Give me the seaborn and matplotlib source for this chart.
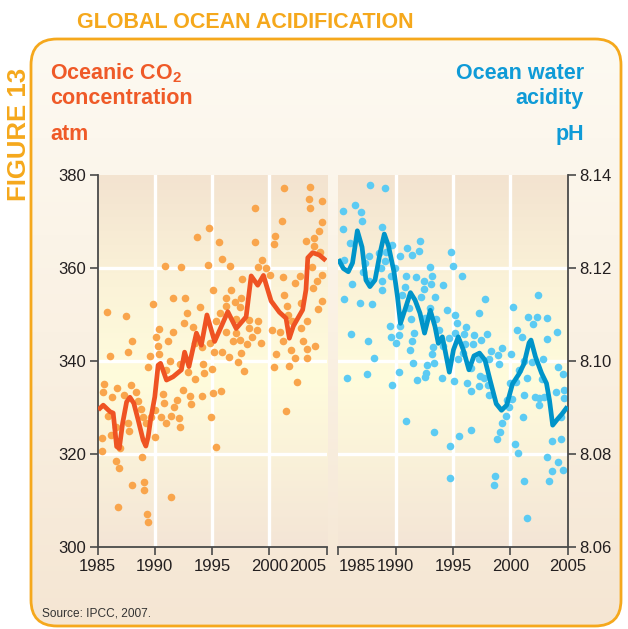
import numpy as np
import pandas as pd
import matplotlib
matplotlib.use("Agg")
import matplotlib.pyplot as plt
import seaborn as sns
from matplotlib.patches import FancyBboxPatch
from matplotlib.colors import LinearSegmentedColormap

# ---------------- data ----------------
co2_year = [1985.80, 1986.09, 1987.48, 1987.65, 1987.97, 1989.80, 1990.93, 1991.57, 1990.37, 1990.09,
            1990.29, 1991.16, 1991.57, 1989.57, 1990.37, 1989.42, 1990.98, 1991.33, 1985.57, 1985.50,
            1986.72, 1986.23, 1987.91, 1988.37, 1987.33, 1988.55, 1988.76, 1985.94, 1987.63, 1987.74,
            1986.15, 1988.98, 1989.24, 1989.63, 1990.00, 1990.72, 1990.81, 1990.55, 1991.02, 1991.42,
            1991.65, 1990.00, 1986.58, 1985.42, 1985.42, 1986.96, 1986.58, 1986.87, 1988.84, 1987.97,
            1989.02, 1989.07, 1986.81, 1989.28, 1989.37, 1991.45, 1994.70, 1993.68, 1995.59, 1995.89,
            1996.55, 1994.63, 1992.32, 1997.59, 1995.07, 1996.67, 1992.61, 1996.23, 1996.98, 1997.54,
            1993.97, 1996.23, 1997.45, 1992.81, 1995.65, 1992.58, 1995.37, 1997.10, 1993.33, 1996.17,
            1997.10, 1996.81, 1997.45, 1998.03, 1993.48, 1994.11, 1994.78, 1995.16, 1995.85, 1996.46,
            1997.54, 1997.22, 1997.74, 1995.02, 1994.29, 1994.20, 1992.90, 1993.48, 1992.17, 1992.46,
            1991.94, 1993.10, 1993.16, 1994.15, 1995.10, 1995.74, 1994.93, 1992.09, 1992.17, 1995.37,
            2001.30, 2003.57, 2003.42, 2003.54, 2004.63, 1998.76, 2001.07, 2004.63, 2004.29, 2000.52,
            2000.37, 2003.19, 2003.89, 2003.85, 1998.76, 2004.43, 1999.37, 1998.98, 1999.71, 2000.09,
            2001.19, 2002.63, 2002.26, 2003.68, 2004.61, 2004.15, 2003.77, 2001.30, 2001.54, 2004.58,
            2004.26, 2002.76, 2001.63, 1999.04, 1998.23, 1998.93, 1998.26, 1998.46, 1999.28, 2000.20,
            2000.93, 2001.16, 2001.97, 2002.76, 2003.24, 2002.90, 2003.28, 2003.97, 2003.28, 2001.89,
            2002.20, 2000.58, 2000.37, 2001.68, 2002.37, 2001.42]
co2_val = [350.5, 341.1, 349.7, 342.0, 344.4, 352.3, 360.4, 353.6, 346.8, 345.2,
           343.3, 344.4, 346.3, 341.1, 341.5, 338.8, 338.1, 339.9, 335.0, 333.4,
           334.3, 332.2, 334.8, 333.3, 332.6, 331.5, 329.7, 328.2, 326.6, 324.9,
           324.1, 328.0, 326.6, 327.9, 329.5, 332.9, 331.0, 328.0, 326.7, 328.2,
           330.0, 323.6, 325.7, 323.4, 320.6, 321.2, 318.5, 316.9, 319.4, 313.3,
           314.0, 312.3, 308.5, 307.2, 305.4, 310.8, 368.5, 366.6, 365.6, 362.0,
           360.5, 360.6, 360.2, 357.6, 355.2, 355.3, 353.5, 353.6, 352.6, 353.6,
           351.7, 351.8, 351.7, 350.4, 350.3, 348.2, 348.5, 349.0, 347.4, 346.2,
           346.0, 344.2, 344.5, 343.7, 343.8, 343.1, 343.8, 342.0, 342.0, 340.9,
           341.7, 339.8, 337.8, 338.3, 337.4, 339.3, 337.6, 336.1, 339.4, 333.8,
           331.6, 332.5, 330.8, 332.5, 333.2, 333.5, 328.0, 327.7, 325.9, 321.6,
           377.1, 377.4, 374.9, 373.0, 374.5, 372.8, 370.2, 369.9, 368.0, 366.9,
           365.1, 365.8, 366.5, 364.7, 365.6, 363.5, 361.7, 360.2, 360.1, 358.6,
           358.1, 358.2, 356.7, 360.3, 358.6, 357.2, 355.6, 354.3, 351.8, 352.9,
           351.1, 352.4, 349.9, 348.5, 348.8, 346.7, 347.0, 345.2, 343.9, 346.6,
           346.2, 344.4, 348.5, 347.2, 348.6, 344.2, 342.6, 343.2, 340.7, 342.4,
           340.7, 341.5, 338.8, 339.0, 335.5, 329.2]

co2_line_year = [1985.07, 1985.50, 1986.09, 1986.37, 1986.67, 1986.90, 1987.19, 1987.54, 1987.83, 1988.17,
                 1988.55, 1988.98, 1989.22, 1989.42, 1989.63, 1990.00, 1990.29, 1990.50, 1991.02, 1991.59,
                 1992.32, 1992.60, 1992.98, 1993.63, 1994.06, 1994.55, 1995.22, 1996.37, 1997.10, 1997.97,
                 1998.41, 1998.98, 1999.48, 2000.15, 2000.87, 2001.45, 2001.74, 2002.09, 2002.90, 2003.19,
                 2003.35, 2003.77, 2004.35, 2004.93]
co2_line_val = [329.5, 330.5, 329.1, 328.8, 321.6, 321.2, 326.6, 331.2, 332.2, 330.9,
                327.3, 323.0, 321.7, 323.7, 327.3, 332.3, 339.1, 339.5, 335.9, 336.6,
                338.1, 341.9, 338.8, 346.0, 343.4, 349.9, 344.2, 350.6, 347.0, 349.5,
                358.3, 356.3, 358.4, 352.9, 350.5, 349.2, 344.9, 347.5, 351.0, 355.3,
                362.2, 363.3, 362.8, 361.6]

ph_year = [1987.74, 1989.05, 1985.44, 1986.46, 1986.95, 1987.04, 1985.44, 1988.84, 1986.02, 1989.71,
           1990.96, 1991.40, 1990.35, 1987.68, 1985.50, 1988.55, 1989.13, 1989.05, 1987.33, 1988.70,
           1989.92, 1987.18, 1989.57, 1990.93, 1987.68, 1988.84, 1986.22, 1990.79, 1988.84, 1990.58,
           1985.50, 1986.87, 1987.96, 1991.19, 1991.31, 1989.51, 1990.35, 1986.08, 1989.57, 1990.29,
           1990.00, 1991.40, 1987.62, 1991.22, 1988.11, 1991.51, 1990.32, 1985.73, 1987.53, 1989.66,
           1990.90, 1992.12, 1992.04, 1994.83, 1994.97, 1992.99, 1991.77, 1992.47, 1993.20, 1993.08,
           1994.15, 1995.76, 1992.47, 1992.21, 1993.43, 1997.79, 1992.99, 1994.50, 1997.24, 1995.17,
           1992.56, 1993.52, 1995.32, 1996.11, 1991.63, 1993.81, 1995.17, 1994.68, 1995.96, 1996.86,
           1997.94, 1993.28, 1994.15, 1996.72, 1997.44, 1996.05, 1993.20, 1995.41, 1995.90, 1992.71,
           1993.37, 1997.29, 1998.14, 1992.65, 1996.57, 1997.35, 1997.70, 1991.89, 1992.56, 1994.04,
           1995.11, 1996.19, 1996.57, 1997.29, 1998.03, 1998.16, 1993.37, 1994.74, 1995.55, 1996.54,
           1994.71, 2002.38, 2000.26, 2001.57, 2002.32, 2003.20, 2001.95, 2000.58, 2001.02, 2004.07,
           2003.17, 1998.31, 1999.25, 1998.95, 2000.06, 2001.16, 1998.98, 2001.86, 2002.82, 2000.78,
           2004.13, 2004.62, 2001.45, 2000.49, 2000.00, 2002.73, 2004.65, 2001.22, 2002.52, 2002.91,
           2002.15, 2003.98, 2004.70, 1999.71, 2000.12, 2002.47, 2001.13, 2004.42, 1999.86, 1999.62,
           1999.25, 1999.10, 1998.84, 2000.41, 2000.64, 2003.63, 2004.42, 2003.20, 2004.18, 2003.60,
           2004.62, 2003.40, 1998.66, 1998.60, 2001.16, 2001.45]
ph_val = [8.1378, 8.1372, 8.1323, 8.1335, 8.1320, 8.1301, 8.1284, 8.1288, 8.1254, 8.1249,
          8.1242, 8.1227, 8.1226, 8.1226, 8.1217, 8.1232, 8.1235, 8.1216, 8.1211, 8.1201,
          8.1201, 8.1192, 8.1183, 8.1183, 8.1172, 8.1171, 8.1166, 8.1159, 8.1153, 8.1142,
          8.1133, 8.1125, 8.1122, 8.1115, 8.1090, 8.1075, 8.1075, 8.1057, 8.1052, 8.1056,
          8.1038, 8.1042, 8.1044, 8.1024, 8.1006, 8.0995, 8.0976, 8.0963, 8.0972, 8.0949,
          8.0872, 8.1257, 8.1237, 8.1235, 8.1205, 8.1203, 8.1180, 8.1173, 8.1183, 8.1165,
          8.1163, 8.1183, 8.1155, 8.1137, 8.1138, 8.1133, 8.1113, 8.1110, 8.1103, 8.1099,
          8.1092, 8.1090, 8.1081, 8.1074, 8.1060, 8.1067, 8.1061, 8.1050, 8.1058, 8.1056,
          8.1057, 8.1031, 8.1033, 8.1037, 8.1045, 8.1037, 8.1014, 8.1004, 8.1017, 8.0991,
          8.0995, 8.1005, 8.1004, 8.0974, 8.0986, 8.0968, 8.0963, 8.0959, 8.0966, 8.0963,
          8.0957, 8.0952, 8.0935, 8.0947, 8.0948, 8.0927, 8.0847, 8.0818, 8.0839, 8.0852,
          8.0748, 8.1142, 8.1117, 8.1095, 8.1095, 8.1093, 8.1080, 8.1067, 8.1052, 8.1063,
          8.1047, 8.1021, 8.1029, 8.1013, 8.1014, 8.1000, 8.0994, 8.0998, 8.1004, 8.0981,
          8.0988, 8.0971, 8.0964, 8.0954, 8.0952, 8.0961, 8.0938, 8.0926, 8.0921, 8.0922,
          8.0923, 8.0933, 8.0921, 8.0916, 8.0918, 8.0905, 8.0879, 8.0879, 8.0902, 8.0882,
          8.0866, 8.0847, 8.0832, 8.0821, 8.0803, 8.0829, 8.0832, 8.0794, 8.0783, 8.0763,
          8.0766, 8.0743, 8.0753, 8.0733, 8.0743, 8.0662]

ph_line_year = [1985.00, 1985.44, 1985.87, 1986.24, 1986.66, 1987.07, 1987.41, 1987.76, 1988.20, 1988.64,
                1989.01, 1989.38, 1989.86, 1990.16, 1990.42, 1990.86, 1991.29, 1991.69, 1992.12, 1992.52,
                1993.02, 1993.43, 1993.72, 1994.07, 1994.30, 1994.68, 1995.04, 1995.46, 1995.90, 1996.39,
                1996.83, 1997.31, 1997.79, 1998.23, 1998.77, 1999.23, 1999.68, 2000.19, 2000.75, 2001.19,
                2001.63, 2001.80, 2002.19, 2002.72, 2003.15, 2003.41, 2003.69, 2004.11, 2004.50, 2004.98]
ph_line_val = [8.1219, 8.1199, 8.1192, 8.1211, 8.1280, 8.1245, 8.1174, 8.1160, 8.1174, 8.1232,
               8.1273, 8.1247, 8.1191, 8.1138, 8.1081, 8.1114, 8.1147, 8.1131, 8.1103, 8.1060,
               8.1109, 8.1074, 8.1038, 8.1052, 8.1024, 8.0976, 8.1024, 8.1052, 8.1024, 8.0981,
               8.1011, 8.1017, 8.1002, 8.0959, 8.0908, 8.0894, 8.0905, 8.0951, 8.0972, 8.0994,
               8.1039, 8.1045, 8.1009, 8.0974, 8.0952, 8.0916, 8.0862, 8.0875, 8.0886, 8.0902]

x_ticks = [1985, 1990, 1995, 2000, 2005]
co2_ticks = [300, 320, 340, 360, 380]
ph_ticks = [8.06, 8.08, 8.10, 8.12, 8.14]

title = "GLOBAL OCEAN ACIDIFICATION"
fig_label = "FIGURE 13"
source = "Source: IPCC, 2007."

# ---------------- style ----------------
ORANGE = "#f5a81c"
CO2_TXT = "#ef5a28"
CO2_PT = "#f9a54c"
CO2_LN = "#ef5323"
PH_TXT = "#0f9bd7"
PH_PT = "#5ccbf3"
PH_LN = "#0094c9"
DARK = "#231f20"
SPINE = "#4a4a4a"

plt.rcParams['font.family'] = ['Liberation Sans', 'DejaVu Sans']

W, H = 628, 629
fig = plt.figure(figsize=(W / 100, H / 100), dpi=100)
fig.patch.set_facecolor("white")


def fx(x):
    return x / W


def fy(y):
    return 1 - y / H


# background layer in pixel coordinates
bg = fig.add_axes([0, 0, 1, 1])
bg.set_xlim(0, W)
bg.set_ylim(H, 0)
bg.axis("off")

box = FancyBboxPatch((31, 39), 590, 587, boxstyle="round,pad=0,rounding_size=26",
                     ec=ORANGE, fc="none", lw=2.0, zorder=3)
bg.add_patch(box)
grad = np.linspace(0, 1, 256).reshape(-1, 1)
box_cmap = LinearSegmentedColormap.from_list("boxg", ["#fdfaf2", "#faf1e3", "#f5e6d3"])
im = bg.imshow(grad, cmap=box_cmap, extent=(31, 621, 626, 39), aspect="auto", zorder=1)
im.set_clip_path(box)

bg.text(77, 28, title, ha="left", va="baseline", fontsize=15.5, fontweight="bold",
        color=ORANGE)
bg.text(19, 134, fig_label, ha="center", va="center", rotation=90, fontsize=18.5,
        fontweight="bold", color=ORANGE, zorder=4)

# labels
bg.text(50, 79, r"Oceanic CO$_\mathregular{2}$", ha="left", va="baseline", fontsize=15.5,
        fontweight="bold", color=CO2_TXT)
bg.text(50, 104, "concentration", ha="left", va="baseline", fontsize=15.5,
        fontweight="bold", color=CO2_TXT)
bg.text(50, 140, "atm", ha="left", va="baseline", fontsize=15.5,
        fontweight="bold", color=CO2_TXT)
bg.text(584, 79, "Ocean water", ha="right", va="baseline", fontsize=15.5,
        fontweight="bold", color=PH_TXT)
bg.text(584, 104, "acidity", ha="right", va="baseline", fontsize=15.5,
        fontweight="bold", color=PH_TXT)
bg.text(584, 140, "pH", ha="right", va="baseline", fontsize=15.5,
        fontweight="bold", color=PH_TXT)
bg.text(42, 617, source, ha="left", va="baseline", fontsize=8.6, color="#333333")

panel_cmap = LinearSegmentedColormap.from_list(
    "panel", [(0.0, "#f4e5d6"), (0.45, "#fffcdc"), (0.7, "#fbf3d8"), (1.0, "#f3e3d0")])


def style_panel(ax, ylim, yticks, side, fmt):
    ax.imshow(grad, cmap=panel_cmap, extent=(1985, 2005, ylim[0], ylim[1]),
              aspect="auto", zorder=0, origin="lower")
    ax.set_xlim(1985, 2005)
    ax.set_ylim(*ylim)
    for v in x_ticks[1:-1]:
        ax.axvline(v, color="white", lw=2.4, zorder=1)
    for v in yticks[1:-1]:
        ax.axhline(v, color="white", lw=2.4, zorder=1)
    ax.set_xticks(x_ticks)
    ax.set_xticklabels([str(t) for t in x_ticks])
    ax.set_yticks(yticks)
    ax.set_yticklabels([fmt.format(t) for t in yticks])
    ax.set_facecolor("none")
    for s in ax.spines.values():
        s.set_visible(False)
    ax.spines["bottom"].set_visible(True)
    ax.spines[side].set_visible(True)
    for s in ("bottom", side):
        ax.spines[s].set_color(SPINE)
        ax.spines[s].set_linewidth(1.3)
    if side == "right":
        ax.yaxis.tick_right()
    ax.tick_params(axis="both", direction="out", length=5.5, width=1.2, color=SPINE,
                   labelsize=12, labelcolor=DARK, pad=3)
    ax.set_xlabel("")
    ax.set_ylabel("")


# left panel
axL = fig.add_axes([fx(97.5), fy(547), 229.2 / W, 372 / H])
sns.scatterplot(x=co2_year, y=co2_val, ax=axL, color=CO2_PT, s=30, linewidth=0, zorder=2)
sns.lineplot(x=co2_line_year, y=co2_line_val, ax=axL, color=CO2_LN, linewidth=3.4,
             estimator=None, sort=False, zorder=3, solid_joinstyle="round", solid_capstyle="butt")
style_panel(axL, (300, 380), co2_ticks, "left", "{:.0f}")
axL.get_xticklabels()[-1].set_horizontalalignment("right")

# right panel
axR = fig.add_axes([fx(338.3), fy(547), 229.4 / W, 372 / H])
sns.scatterplot(x=ph_year, y=ph_val, ax=axR, color=PH_PT, s=30, linewidth=0, zorder=2)
sns.lineplot(x=ph_line_year, y=ph_line_val, ax=axR, color=PH_LN, linewidth=3.4,
             estimator=None, sort=False, zorder=3, solid_joinstyle="round", solid_capstyle="butt")
style_panel(axR, (8.06, 8.14), ph_ticks, "right", "{:.2f}")
axR.get_xticklabels()[0].set_horizontalalignment("left")

fig.savefig("out.png", dpi=100, facecolor="white")
